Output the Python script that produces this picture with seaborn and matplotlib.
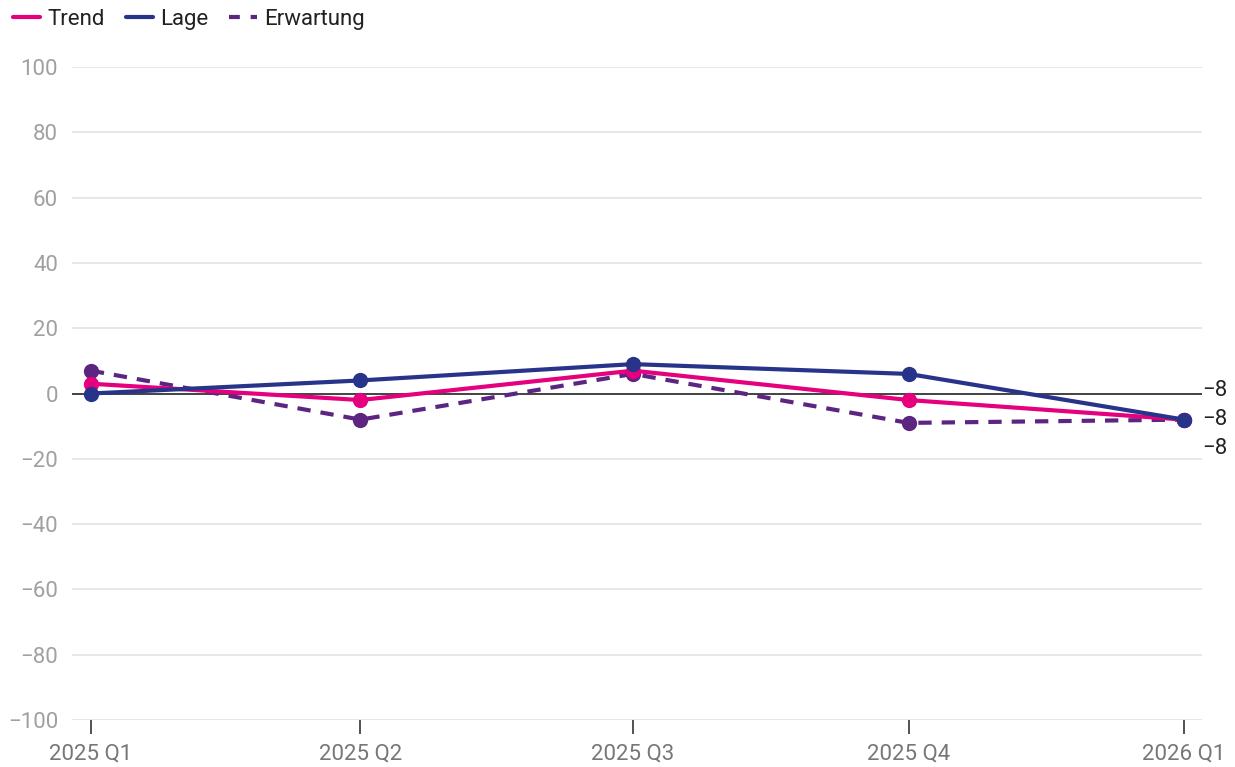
import matplotlib
matplotlib.use("Agg")
import matplotlib.pyplot as plt
import seaborn as sns
import pandas as pd
from matplotlib.lines import Line2D

quarters = ["2025 Q1", "2025 Q2", "2025 Q3", "2025 Q4", "2026 Q1"]
quarter_starts = ["2025-01-01", "2025-04-01", "2025-07-01", "2025-10-01", "2026-01-01"]
trend = [3, -2, 7, -2, -8]
lage = [0, 4, 9, 6, -8]
erwartung = [7, -8, 6, -9, -8]
yticks = [100, 80, 60, 40, 20, 0, -20, -40, -60, -80, -100]

colors = {"Trend": "#e5007d", "Lage": "#28348a", "Erwartung": "#5c2582"}

sns.set_theme(style="white")
plt.rcParams['font.family'] = ['Roboto', 'DejaVu Sans']

dates = pd.to_datetime(quarter_starts)
df = pd.DataFrame({"date": list(dates) * 3,
                   "value": trend + lage + erwartung,
                   "series": ["Trend"] * 5 + ["Lage"] * 5 + ["Erwartung"] * 5})

fig = plt.figure(figsize=(12.35, 7.67), dpi=100)
ax = fig.add_axes([0.0583, 0.0613, 0.9150, 0.8513])

for yt in yticks:
    if yt != 0:
        ax.axhline(yt, color="#e3e3e3", lw=1.2, zorder=0)
ax.axhline(0, color="#222222", lw=1.2, zorder=1)

order = ["Erwartung", "Trend", "Lage"]
for s in order:
    sub = df[df.series == s]
    sns.lineplot(data=sub, x="date", y="value", ax=ax, color=colors[s], lw=3,
                 linestyle=(0, (3.2, 2.4)) if s == "Erwartung" else "-",
                 marker="o", markersize=11, markeredgewidth=0, legend=False, zorder=3)

ax.set_xlim(dates[0] - pd.Timedelta(days=6.3), dates[-1] + pd.Timedelta(days=6.0))
ax.set_ylim(-100, 100)
ax.set_xticks(dates)
ax.set_xticklabels(quarters)
ax.set_yticks(yticks)
ax.set_yticklabels([str(v).replace("-", "\u2212") for v in yticks])
ax.tick_params(axis="y", left=False, length=0, pad=10, labelsize=16, labelcolor="#a0a0a0")
ax.tick_params(axis="x", bottom=True, length=10, width=1.2, color="#333333", direction="out",
               pad=7, labelsize=16, labelcolor="#777777")
ax.set_xlabel("")
ax.set_ylabel("")
for sp in ax.spines.values():
    sp.set_visible(False)

# end labels
end_vals = [trend[-1], lage[-1], erwartung[-1]]
offsets = [-1, 0, 1]
for v, o in zip(end_vals, offsets):
    ax.annotate(str(v).replace("-", "\u2212"), xy=(1.0, v), xycoords=("axes fraction", "data"),
                xytext=(0, -o * 29), textcoords="offset pixels",
                ha="left", va="center", fontsize=16, color="#222222")

handles = [Line2D([0], [0], color=colors["Trend"], lw=3),
           Line2D([0], [0], color=colors["Lage"], lw=3),
           Line2D([0], [0], color=colors["Erwartung"], lw=3, linestyle=(0, (2.6, 2.6)))]
fig.legend(handles, ["Trend", "Lage", "Erwartung"], loc="upper left",
           bbox_to_anchor=(-0.006, 1.014), ncol=3, frameon=False, fontsize=16,
           handlelength=1.25, handletextpad=0.3, columnspacing=0.95, labelcolor="#222222")

fig.savefig("out.png", dpi=100)
